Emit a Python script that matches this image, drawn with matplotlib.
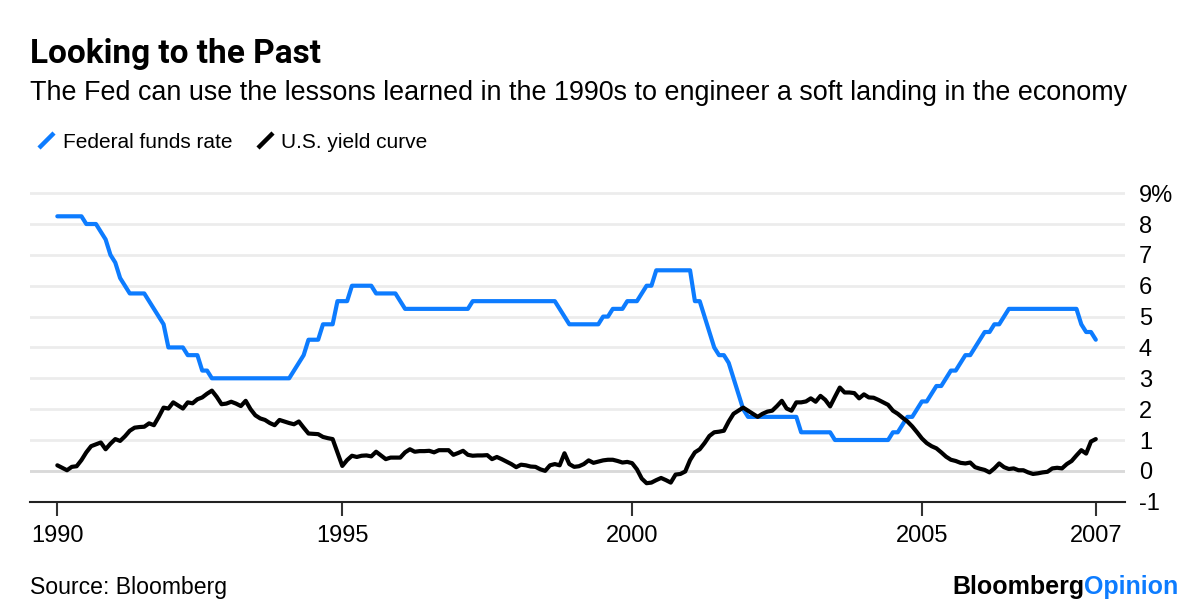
import numpy as np
import matplotlib.pyplot as plt
from matplotlib.lines import Line2D

plt.rcParams['font.family'] = ['Liberation Sans', 'DejaVu Sans']

# month-end values, Jan 1990 - Dec 2007 (12 per row = one year)
fed_funds = [
    8.25, 8.25, 8.25, 8.25, 8.25, 8.25, 8.0, 8.0, 8.0, 7.75, 7.5, 7.0,
    6.75, 6.25, 6.0, 5.75, 5.75, 5.75, 5.75, 5.5, 5.25, 5.0, 4.75, 4.0,
    4.0, 4.0, 4.0, 3.75, 3.75, 3.75, 3.25, 3.25, 3.0, 3.0, 3.0, 3.0,
    3.0, 3.0, 3.0, 3.0, 3.0, 3.0, 3.0, 3.0, 3.0, 3.0, 3.0, 3.0,
    3.0, 3.25, 3.5, 3.75, 4.25, 4.25, 4.25, 4.75, 4.75, 4.75, 5.5, 5.5,
    5.5, 6.0, 6.0, 6.0, 6.0, 6.0, 5.75, 5.75, 5.75, 5.75, 5.75, 5.5,
    5.25, 5.25, 5.25, 5.25, 5.25, 5.25, 5.25, 5.25, 5.25, 5.25, 5.25, 5.25,
    5.25, 5.25, 5.5, 5.5, 5.5, 5.5, 5.5, 5.5, 5.5, 5.5, 5.5, 5.5,
    5.5, 5.5, 5.5, 5.5, 5.5, 5.5, 5.5, 5.5, 5.25, 5.0, 4.75, 4.75,
    4.75, 4.75, 4.75, 4.75, 4.75, 5.0, 5.0, 5.25, 5.25, 5.25, 5.5, 5.5,
    5.5, 5.75, 6.0, 6.0, 6.5, 6.5, 6.5, 6.5, 6.5, 6.5, 6.5, 6.5,
    5.5, 5.5, 5.0, 4.5, 4.0, 3.75, 3.75, 3.5, 3.0, 2.5, 2.0, 1.75,
    1.75, 1.75, 1.75, 1.75, 1.75, 1.75, 1.75, 1.75, 1.75, 1.75, 1.25, 1.25,
    1.25, 1.25, 1.25, 1.25, 1.25, 1.0, 1.0, 1.0, 1.0, 1.0, 1.0, 1.0,
    1.0, 1.0, 1.0, 1.0, 1.0, 1.25, 1.25, 1.5, 1.75, 1.75, 2.0, 2.25,
    2.25, 2.5, 2.75, 2.75, 3.0, 3.25, 3.25, 3.5, 3.75, 3.75, 4.0, 4.25,
    4.5, 4.5, 4.75, 4.75, 5.0, 5.25, 5.25, 5.25, 5.25, 5.25, 5.25, 5.25,
    5.25, 5.25, 5.25, 5.25, 5.25, 5.25, 5.25, 5.25, 4.75, 4.5, 4.5, 4.25,
]

yield_curve = [
    0.18, 0.10, 0.02, 0.13, 0.15, 0.35, 0.60, 0.80, 0.86, 0.92, 0.70, 0.88,
    1.03, 0.97, 1.12, 1.30, 1.40, 1.42, 1.43, 1.54, 1.48, 1.75, 2.05, 2.02,
    2.22, 2.12, 2.02, 2.22, 2.19, 2.32, 2.38, 2.50, 2.60, 2.40, 2.16, 2.18,
    2.24, 2.18, 2.10, 2.27, 2.00, 1.80, 1.70, 1.65, 1.55, 1.48, 1.65, 1.60,
    1.55, 1.51, 1.60, 1.40, 1.21, 1.20, 1.19, 1.10, 1.06, 1.03, 0.60, 0.16,
    0.35, 0.49, 0.45, 0.49, 0.50, 0.47, 0.62, 0.50, 0.38, 0.43, 0.43, 0.43,
    0.60, 0.70, 0.62, 0.64, 0.64, 0.65, 0.60, 0.67, 0.67, 0.67, 0.52, 0.58,
    0.65, 0.52, 0.49, 0.50, 0.50, 0.51, 0.38, 0.45, 0.38, 0.30, 0.22, 0.12,
    0.20, 0.18, 0.14, 0.13, 0.05, 0.00, 0.18, 0.22, 0.18, 0.57, 0.22, 0.13,
    0.15, 0.22, 0.34, 0.26, 0.30, 0.34, 0.36, 0.36, 0.32, 0.27, 0.29, 0.25,
    0.05, -0.25, -0.40, -0.38, -0.30, -0.23, -0.30, -0.38, -0.12, -0.10, -0.02, 0.35,
    0.60, 0.70, 0.90, 1.13, 1.25, 1.27, 1.30, 1.60, 1.85, 1.95, 2.05, 1.95,
    1.85, 1.75, 1.85, 1.92, 1.95, 2.10, 2.27, 2.02, 1.95, 2.22, 2.22, 2.25,
    2.35, 2.24, 2.43, 2.30, 2.09, 2.40, 2.70, 2.54, 2.54, 2.52, 2.35, 2.48,
    2.38, 2.37, 2.30, 2.22, 2.14, 1.95, 1.85, 1.72, 1.60, 1.44, 1.25, 1.05,
    0.90, 0.80, 0.73, 0.60, 0.46, 0.36, 0.32, 0.26, 0.24, 0.27, 0.12, 0.07,
    0.03, -0.05, 0.08, 0.24, 0.12, 0.06, 0.08, 0.02, 0.02, -0.05, -0.10, -0.08,
    -0.05, -0.03, 0.08, 0.10, 0.08, 0.22, 0.32, 0.50, 0.67, 0.56, 0.95, 1.03,
]

x_labels = ['1990', '1995', '2000', '2005', '2007']
y_ticks = [-1, 0, 1, 2, 3, 4, 5, 6, 7, 8, 9]

BLUE = '#0d7cff'

# month-end dates as decimal years
months = np.arange(len(fed_funds))
x = 1990 + (months + 1) / 12.0
x_ticks = [x[0], 1995, 2000, 2005, x[-1]]

fig = plt.figure(figsize=(12, 6.12), dpi=100)
ax = fig.add_axes([0.025, 0.1802, 0.9125, 0.5193])

ax.plot(x, fed_funds, color=BLUE, lw=3, solid_capstyle='round', solid_joinstyle='round', zorder=3)
ax.plot(x, yield_curve, color='black', lw=3, solid_capstyle='round', solid_joinstyle='round', zorder=4)

ax.set_xlim(1989.612, 2008.504)
ax.set_ylim(-1, 9.3)

ax.set_yticks(y_ticks)
ax.set_yticklabels([('%d%%' % v) if v == 9 else str(v) for v in y_ticks])
ax.yaxis.tick_right()
ax.tick_params(axis='y', length=0, pad=10, labelsize=17)
ax.grid(axis='y', color='#ececec', lw=2)
ax.axhline(0, color='#d9d9d9', lw=2, zorder=1)
ax.set_axisbelow(True)

ax.set_xticks(x_ticks)
ax.set_xticklabels(x_labels)
ax.tick_params(axis='x', length=10, width=1.5, color='#333333', pad=6.5, labelsize=17)

for s in ['top', 'left', 'right']:
    ax.spines[s].set_visible(False)
ax.spines['bottom'].set_linewidth(1.5)
ax.spines['bottom'].set_color('#222222')


def fx(px):
    return px / 1200.0


def fy(py):
    return 1 - py / 612.0


fig.text(fx(30), fy(62.7), 'Looking to the Past', fontsize=24, fontweight='bold', va='baseline',
         family=['Roboto', 'Liberation Sans'])
fig.text(fx(30), fy(100), 'The Fed can use the lessons learned in the 1990s to engineer a soft landing in the economy',
         fontsize=19.4, va='baseline')

# legend
fig.add_artist(Line2D([fx(39), fx(54)], [fy(148), fy(133)], color=BLUE, lw=3.2, solid_capstyle='butt'))
fig.text(fx(62.7), fy(147.7), 'Federal funds rate', fontsize=15, va='baseline')
fig.add_artist(Line2D([fx(258), fx(273)], [fy(148), fy(133)], color='black', lw=3.2, solid_capstyle='butt'))
fig.text(fx(281), fy(147.7), 'U.S. yield curve', fontsize=15, va='baseline')

fig.text(fx(30), fy(594), 'Source: Bloomberg', fontsize=16.6, va='baseline')
t = fig.text(fx(1178), fy(594), 'Opinion', fontsize=18, fontweight='bold', color=BLUE, va='baseline', ha='right')
fig.canvas.draw()
bb = t.get_window_extent()
fig.text(bb.x0 / 1200.0 + 0.001, fy(594), 'Bloomberg', fontsize=18, fontweight='bold', color='black',
         va='baseline', ha='right')

fig.savefig('out.png', dpi=100)
